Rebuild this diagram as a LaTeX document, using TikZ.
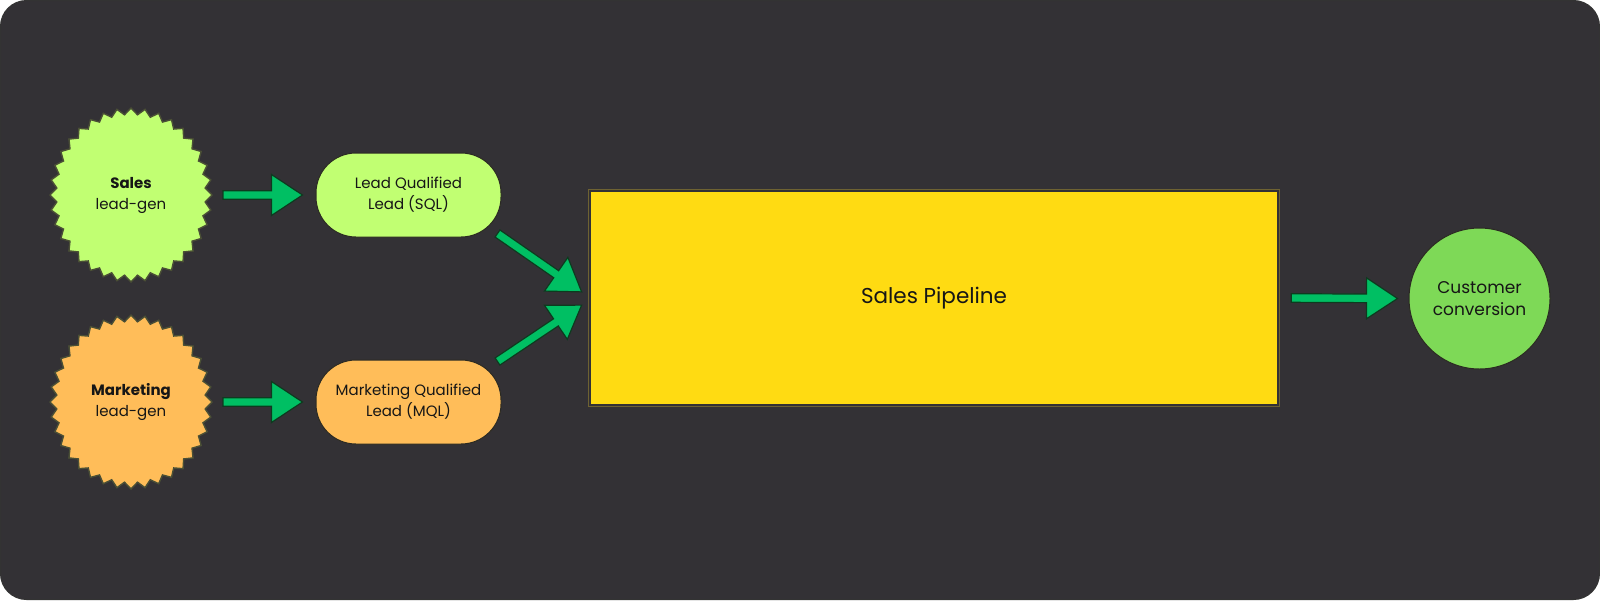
\documentclass[tikz,border=0pt]{standalone}
\usepackage{fontspec}
\setmainfont{Poppins}
\usetikzlibrary{calc}
\definecolor{bg}{HTML}{333135}
\definecolor{limefill}{HTML}{C1FF72}
\definecolor{orangefill}{HTML}{FFBD59}
\definecolor{pipeyellow}{HTML}{FFDB12}
\definecolor{pipeline}{HTML}{6E6232}
\definecolor{custgreen}{HTML}{7ED957}
\definecolor{arrowgreen}{HTML}{00BF63}
\definecolor{arrowdark}{HTML}{0E3A1F}
\definecolor{edgedark}{HTML}{2B2A22}
\definecolor{burstedge}{HTML}{4A4F35}
\definecolor{txt}{HTML}{161616}
\tikzset{
  burstlabel/.style={align=center, text=txt, inner sep=0pt, font=\fontsize{15}{21}\selectfont},
  burstshape/.style={draw=burstedge, line width=1.4pt, line join=miter},
  pill/.style={rectangle, rounded corners=40pt, minimum width=185pt, minimum height=84pt,
    draw=edgedark, line width=1pt, align=center, text=txt, inner sep=0pt,
    font=\fontsize{15}{21}\selectfont},
  pipebox/.style={rectangle, fill=pipeyellow, minimum width=686pt, minimum height=212pt,
    inner sep=0pt, text=txt, font=\fontsize{21.5}{26}\selectfont},
  custnode/.style={circle, fill=custgreen, draw=edgedark, line width=1pt, minimum size=141pt,
    inner sep=0pt, align=center, text=txt, font=\fontsize{17}{22}\selectfont},
  blockarr/.style={draw=arrowdark, fill=arrowgreen, line width=1.2pt, line join=miter},
}
\newcommand\starburst[2]{%
  \filldraw[burstshape, fill=#2]
    ($(#1)+(90:81 and 87)$)
    \foreach \k in {0,...,35}{
      -- ($(#1)+({90+\k*10+5}:74.5 and 80.5)$)
      -- ($(#1)+({90+(\k+1)*10}:81 and 87)$)
    } -- cycle;
}
\newcommand\blockarrow[2]{%
  \path[blockarr] let \p1=(#1), \p2=(#2),
      \n1={atan2(\y2-\y1,\x2-\x1)}, \n2={veclen(\x2-\x1,\y2-\y1)} in
    {[shift={(\p1)}, rotate=\n1]
      (0pt,-4.3pt) -- ({\n2*1pt-31pt},-4.3pt) -- ({\n2*1pt-31pt},-20.5pt)
      -- ({\n2*1pt},0pt) -- ({\n2*1pt-31pt},20.5pt) -- ({\n2*1pt-31pt},4.3pt)
      -- (0pt,4.3pt) -- cycle};
}
\begin{document}
\begin{tikzpicture}[x=1pt,y=-1pt]
\useasboundingbox (0,0) rectangle (1600,600);
\fill[white] (0,0) rectangle (1600,600);
\filldraw[fill=bg, draw=black!80, line width=1pt, rounded corners=26pt] (0.5,0.5) rectangle (1599.5,599.5);

% lead-gen starbursts
\coordinate (salesc) at (131,195);
\coordinate (mktc) at (131,402);
\starburst{salesc}{limefill}
\starburst{mktc}{orangefill}
\node[burstlabel] (sales) at (salesc) {\textbf{Sales}\\lead-gen};
\node[burstlabel] (marketing) at (mktc) {\textbf{Marketing}\\lead-gen};

% qualified leads
\node[pill, fill=limefill] (sql) at (408.5,195) {Lead Qualified\\Lead (SQL)};
\node[pill, fill=orangefill] (mql) at (408.5,402) {Marketing Qualified\\Lead (MQL)};

% pipeline
\node[pipebox] (pipe) at (934,298) {Sales Pipeline};
\draw[pipeline, line width=1pt] ($(pipe.north west)+(-2.5,-2.5)$) rectangle ($(pipe.south east)+(2.5,2.5)$);

% customer
\node[custnode] (cust) at (1479.5,298.5) {Customer\\conversion};

% arrows
\blockarrow{$(salesc)+(92,0)$}{$(sql.west)+(-13,0)$}
\blockarrow{$(mktc)+(92,0)$}{$(mql.west)+(-13,0)$}
\blockarrow{$(sql.south east)+(-4,-4)$}{$(pipe.west)+(-9,-6)$}
\blockarrow{$(mql.north east)+(-4,2)$}{$(pipe.west)+(-9,7)$}
\blockarrow{$(pipe.east)+(14,0)$}{$(cust.west)+(-11,0)$}
\end{tikzpicture}
\end{document}
